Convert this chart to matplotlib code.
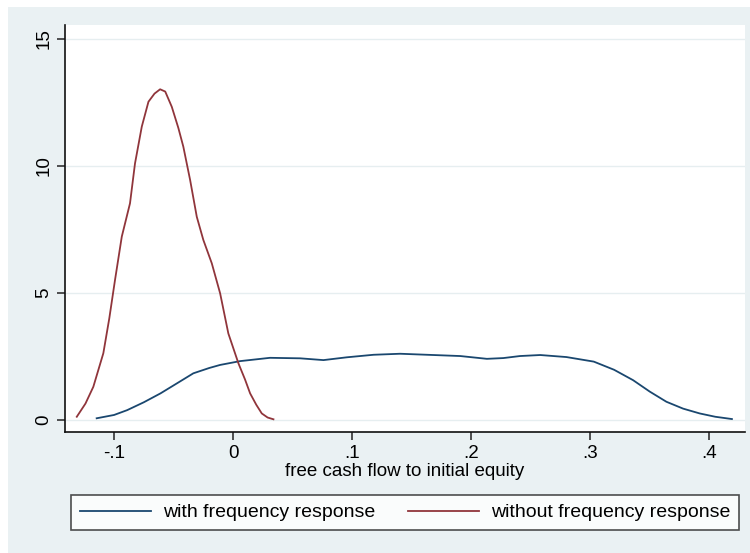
import matplotlib
matplotlib.use("Agg")
import matplotlib.pyplot as plt
from matplotlib.patches import Rectangle

plt.rcParams['font.family'] = ['Liberation Sans', 'DejaVu Sans']

# data
x_without = [-0.1313, -0.1240, -0.1174, -0.109, -0.1040, -0.0992, -0.0935, -0.0866, -0.0824,
             -0.0767, -0.0711, -0.0660, -0.0613, -0.057, -0.0515, -0.0460, -0.0418,
             -0.0361, -0.0305, -0.025, -0.0179, -0.0109, -0.004, 0.0045, 0.0100,
             0.0143, 0.0195, 0.0241, 0.0290, 0.0339]
y_without = [0.13, 0.65, 1.31, 2.63, 4.00, 5.51, 7.22, 8.53, 10.1,
             11.55, 12.53, 12.85, 13.02, 12.93, 12.33, 11.50, 10.76,
             9.45, 8.0, 7.09, 6.17, 4.99, 3.41, 2.23, 1.60,
             1.05, 0.60, 0.26, 0.10, 0.03]

x_with = [-0.1146, -0.100, -0.089, -0.075, -0.061, -0.047, -0.0334, -0.020, -0.0109, 0.0059,
          0.031, 0.0563, 0.0759, 0.0955, 0.118, 0.1403, 0.1627, 0.1908, 0.2132, 0.227,
          0.241, 0.258, 0.280, 0.303, 0.320, 0.336, 0.350, 0.364, 0.378, 0.392, 0.405, 0.419]
y_with = [0.07, 0.20, 0.39, 0.70, 1.05, 1.45, 1.84, 2.05, 2.17, 2.32,
          2.45, 2.43, 2.36, 2.47, 2.57, 2.61, 2.57, 2.52, 2.41, 2.44,
          2.52, 2.56, 2.48, 2.30, 1.98, 1.57, 1.12, 0.72, 0.45, 0.26, 0.13, 0.04]

x_ticks = [-0.1, 0, 0.1, 0.2, 0.3, 0.4]
x_ticklabels = ['-.1', '0', '.1', '.2', '.3', '.4']
y_ticks = [0, 5, 10, 15]
y_ticklabels = ['0', '5', '10', '15']
series_labels = ['with frequency response', 'without frequency response']
x_label = 'free cash flow to initial equity'

bg = '#eaf1f3'
blue = '#1a476f'
red = '#90353b'

fig = plt.figure(figsize=(7.5, 5.53), dpi=100)
fig.patch.set_facecolor('white')
fig.patches.append(Rectangle((8/750, 0), 1, 1 - 7/553, transform=fig.transFigure,
                             facecolor=bg, edgecolor='none', zorder=-10))

ax = fig.add_axes([65/750, 1 - 432/553, 680/750, 407/553])
ax.set_facecolor('white')
l1, = ax.plot(x_with, y_with, color=blue, lw=1.3, solid_joinstyle='round')
l2, = ax.plot(x_without, y_without, color=red, lw=1.3, solid_joinstyle='round')

ax.set_xlim(-0.1412, 0.43)
ax.set_ylim(-0.47, 15.55)
ax.set_xticks(x_ticks)
ax.set_xticklabels(x_ticklabels, fontsize=13.5)
ax.set_yticks(y_ticks)
ax.set_yticklabels(y_ticklabels, fontsize=13.5, rotation=90, va='center')
ax.tick_params(axis='both', length=6, width=1.2, color='#333333', pad=3)
for s in ['top', 'right']:
    ax.spines[s].set_visible(False)
for s in ['left', 'bottom']:
    ax.spines[s].set_linewidth(1.2)
    ax.spines[s].set_color('#111111')
ax.grid(axis='y', color='#e6eef0', lw=1)
ax.set_axisbelow(True)
ax.set_xlabel(x_label, fontsize=13.5, labelpad=1)

fs = 14
leg = fig.legend([l1, l2], series_labels, ncol=2, loc='center',
                 bbox_to_anchor=(405/750, 1 - 512.5/553),
                 bbox_transform=fig.transFigure,
                 fontsize=fs, frameon=True, fancybox=False, handlelength=3.65,
                 handletextpad=0.62, borderaxespad=0, columnspacing=1.7,
                 borderpad=0.46)
leg.get_frame().set_edgecolor('#222222')
leg.get_frame().set_linewidth(1.2)

fig.savefig('out.png', dpi=100, facecolor=fig.get_facecolor())
